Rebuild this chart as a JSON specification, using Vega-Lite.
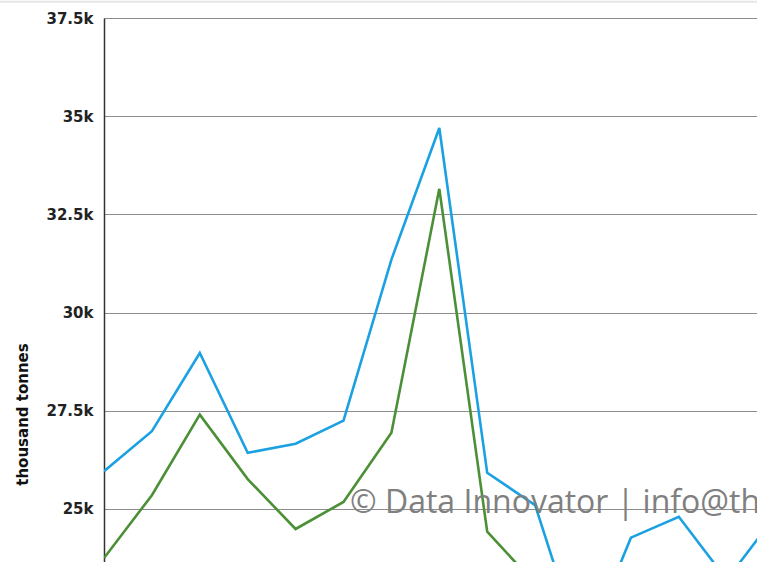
{
  "$schema": "https://vega.github.io/schema/vega-lite/v6.json",
  "width": 653,
  "height": 544,
  "autosize": {"type": "none"},
  "padding": {"left": 104, "top": 18, "right": 0, "bottom": 0},
  "background": "white",
  "config": {"view": {"stroke": null}},
  "datasets": {
    "series": [
      {"year": 2000, "series": "Series 1", "value": 25960},
      {"year": 2001, "series": "Series 1", "value": 26980},
      {"year": 2002, "series": "Series 1", "value": 28970},
      {"year": 2003, "series": "Series 1", "value": 26430},
      {"year": 2004, "series": "Series 1", "value": 26660},
      {"year": 2005, "series": "Series 1", "value": 27250},
      {"year": 2006, "series": "Series 1", "value": 31350},
      {"year": 2007, "series": "Series 1", "value": 34700},
      {"year": 2008, "series": "Series 1", "value": 25920},
      {"year": 2009, "series": "Series 1", "value": 25100},
      {"year": 2010, "series": "Series 1", "value": 21300},
      {"year": 2011, "series": "Series 1", "value": 24270},
      {"year": 2012, "series": "Series 1", "value": 24800},
      {"year": 2013, "series": "Series 1", "value": 23200},
      {"year": 2014, "series": "Series 1", "value": 24800},
      {"year": 2000, "series": "Series 2", "value": 23750},
      {"year": 2001, "series": "Series 2", "value": 25350},
      {"year": 2002, "series": "Series 2", "value": 27400},
      {"year": 2003, "series": "Series 2", "value": 25760},
      {"year": 2004, "series": "Series 2", "value": 24490},
      {"year": 2005, "series": "Series 2", "value": 25180},
      {"year": 2006, "series": "Series 2", "value": 26940},
      {"year": 2007, "series": "Series 2", "value": 33150},
      {"year": 2008, "series": "Series 2", "value": 24420},
      {"year": 2009, "series": "Series 2", "value": 23100}
    ],
    "note": [
      {"label": "© Data Innovator | info@thedatainnovator.com"}
    ]
  },
  "layer": [
    {
      "data": {"name": "note"},
      "mark": {"type": "rule", "stroke": "#e6e6e6", "strokeWidth": 2},
      "encoding": {
        "x": {"datum": 1997.83, "type": "quantitative", "scale": {"domain": [2000, 2013.632], "nice": false, "zero": false}, "axis": null},
        "x2": {"datum": 2013.632},
        "y": {"datum": 37915, "type": "quantitative"}
      }
    },
    {
      "data": {"name": "series"},
      "mark": {"type": "line", "strokeWidth": 2.6, "clip": true},
      "encoding": {
        "x": {"field": "year", "type": "quantitative", "scale": {"domain": [2000, 2013.632], "nice": false, "zero": false}, "axis": null},
        "y": {
          "field": "value",
          "type": "quantitative",
          "scale": {"domain": [23650, 37500], "nice": false, "zero": false},
          "axis": {
            "title": "thousand tonnes",
            "values": [25000, 27500, 30000, 32500, 35000, 37500],
            "format": ".3~s",
            "grid": true,
            "gridColor": "#8c8c8c",
            "gridWidth": 1.2,
            "gridOpacity": 1,
            "domain": true,
            "domainColor": "#333333",
            "domainWidth": 1.5,
            "ticks": false,
            "labelPadding": 11,
            "labelFont": "DejaVu Sans",
            "labelFontSize": 15,
            "labelFontWeight": "bold",
            "labelColor": "#222222",
            "titleFont": "DejaVu Sans",
            "titleFontSize": 15,
            "titleFontWeight": "bold",
            "titleColor": "#111111",
            "titleX": -82,
            "titleY": 396,
            "titleAngle": -90,
            "titleAlign": "center",
            "titleBaseline": "middle"
          }
        },
        "color": {
          "field": "series",
          "type": "nominal",
          "scale": {"domain": ["Series 1", "Series 2"], "range": ["#1ba1e2", "#4b9036"]},
          "legend": null
        }
      }
    },
    {
      "data": {"name": "note"},
      "mark": {"type": "text", "font": "Open Sans", "fontSize": 32, "color": "#808080", "align": "left", "baseline": "alphabetic"},
      "encoding": {
        "x": {"datum": 2005.136, "type": "quantitative"},
        "y": {"datum": 24898, "type": "quantitative"},
        "text": {"field": "label"}
      }
    }
  ]
}
